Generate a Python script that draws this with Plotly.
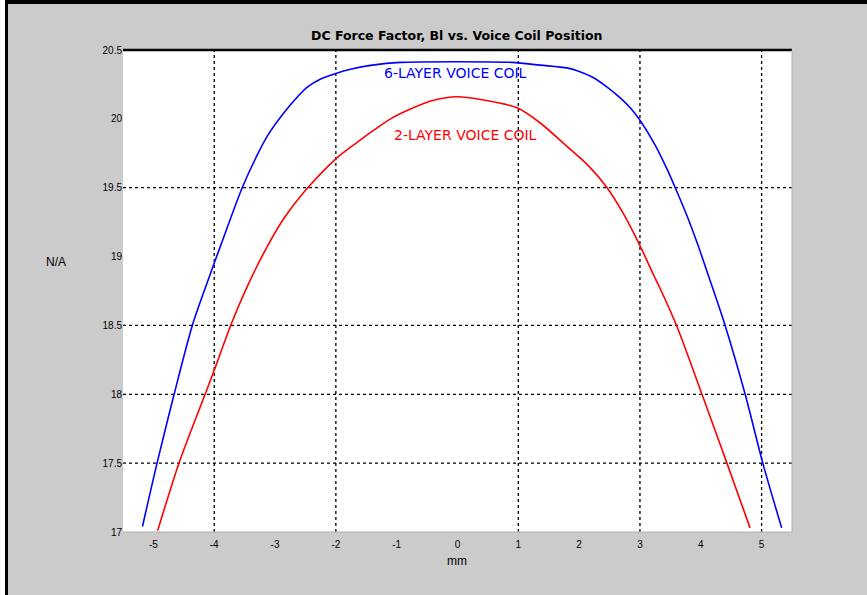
import plotly.graph_objects as go

# ---- data ----
blue_x = [-5.18, -4.94, -4.66, -4.36, -4.10, -3.82, -3.54, -3.29, -3.12, -2.86, -2.63,
          -2.47, -2.25, -2.0, -1.76, -1.4, -0.94, 0.0, 0.9, 1.36, 1.8, 1.97, 2.23, 2.46,
          2.68, 2.84, 3.0, 3.25, 3.44, 3.58, 3.77, 3.94, 4.15, 4.40, 4.73, 5.02, 5.33]
blue_y = [17.04, 17.5, 18.0, 18.5, 18.83, 19.17, 19.5, 19.74, 19.88, 20.04, 20.16,
          20.23, 20.29, 20.33, 20.36, 20.39, 20.41, 20.415, 20.41, 20.39, 20.37, 20.35, 20.30, 20.23,
          20.15, 20.08, 19.99, 19.81, 19.64, 19.5, 19.30, 19.10, 18.83, 18.5, 18.0, 17.5, 17.03]

red_x = [-4.93, -4.58, -4.15, -3.97, -3.73, -3.46, -3.12, -2.85, -2.52, -2.0, -1.65, -1.37,
         -1.10, -0.83, -0.44, 0.0, 0.38, 0.98, 1.36, 1.80, 2.15, 2.46, 2.73, 3.0, 3.22,
         3.33, 3.61, 4.02, 4.43, 4.81]
red_y = [17.01, 17.5, 18.0, 18.21, 18.5, 18.78, 19.08, 19.28, 19.47, 19.71, 19.83, 19.92,
         20.00, 20.06, 20.13, 20.16, 20.14, 20.08, 19.97, 19.80, 19.66, 19.5, 19.31, 19.08, 18.87,
         18.77, 18.49, 18.0, 17.5, 17.03]

x_ticks = [-5, -4, -3, -2, -1, 0, 1, 2, 3, 4, 5]
x_tick_labels = ["-5", "-4", "-3", "-2", "-1", "0", "1", "2", "3", "4", "5"]
y_ticks = [17, 17.5, 18, 18.5, 19, 19.5, 20, 20.5]
y_tick_labels = ["17", "17.5", "18", "18.5", "19", "19.5", "20", "20.5"]

# grid lines visible in the reference
x_grid = [-4, -2, 1, 3, 5]
y_grid = [17.5, 18, 18.5, 19.5]

series_names = ["6-LAYER VOICE COIL", "2-LAYER VOICE COIL"]
title_text = "DC Force Factor, Bl vs. Voice Coil Position"

FONT = "Liberation Sans, Arial, sans-serif"
WIDE = "DejaVu Sans, Verdana, sans-serif"
GRAY = "#cbcbcb"

fig = go.Figure()
fig.add_trace(go.Scatter(x=blue_x, y=blue_y, mode="lines", name=series_names[0],
                         line=dict(color="#0000ff", width=1.6, shape="spline", smoothing=0.8),
                         showlegend=False))
fig.add_trace(go.Scatter(x=red_x, y=red_y, mode="lines", name=series_names[1],
                         line=dict(color="#ff0000", width=1.6, shape="spline", smoothing=0.8),
                         showlegend=False))

shapes = []
for gx in x_grid:
    shapes.append(dict(type="line", xref="x", yref="paper", x0=gx, x1=gx, y0=0, y1=1,
                       line=dict(color="black", width=1.3, dash="dot"), layer="below"))
for gy in y_grid:
    shapes.append(dict(type="line", xref="paper", yref="y", x0=0, x1=1, y0=gy, y1=gy,
                       line=dict(color="black", width=1.3, dash="dot"), layer="below"))

# plot frame: thick top, light bottom/right
shapes.append(dict(type="line", xref="paper", yref="paper", x0=0, x1=1, y0=1, y1=1,
                   line=dict(color="black", width=2.5)))
shapes.append(dict(type="line", xref="paper", yref="paper", x0=0, x1=1, y0=0, y1=0,
                   line=dict(color="#b0b0b0", width=1)))
shapes.append(dict(type="line", xref="paper", yref="paper", x0=1, x1=1, y0=0, y1=1,
                   line=dict(color="#b0b0b0", width=1)))

# window frame (pixel -> paper conversion)
L, R, T, B, W, H = 123, 75, 50, 63, 867, 595
pw, ph = W - L - R, H - T - B
def px(x):
    return (x - L) / pw
def py(y):
    return (H - B - y) / ph
shapes.append(dict(type="rect", xref="paper", yref="paper", x0=px(0), x1=px(5), y0=py(0), y1=py(H),
                   line=dict(width=0), fillcolor="white"))
shapes.append(dict(type="rect", xref="paper", yref="paper", x0=px(5), x1=px(8), y0=py(0), y1=py(H),
                   line=dict(width=0), fillcolor="black"))
shapes.append(dict(type="rect", xref="paper", yref="paper", x0=px(5), x1=px(W), y0=py(0), y1=py(4),
                   line=dict(width=0), fillcolor="black"))

annotations = [
    dict(x=-0.03, y=20.33, xref="x", yref="y", text=series_names[0], showarrow=False,
         xanchor="center", yanchor="middle",
         font=dict(family=WIDE, size=14, color="#0000ff")),
    dict(x=0.13, y=19.88, xref="x", yref="y", text=series_names[1], showarrow=False,
         xanchor="center", yanchor="middle",
         font=dict(family=WIDE, size=14, color="#ff0000")),
    dict(x=px(56), y=py(262), xref="paper", yref="paper", text="N/A", showarrow=False,
         xanchor="center", yanchor="middle",
         font=dict(family=FONT, size=12, color="black")),
    dict(x=px(457), y=py(561), xref="paper", yref="paper", text="mm", showarrow=False,
         xanchor="center", yanchor="middle",
         font=dict(family=FONT, size=12, color="black")),
    dict(x=px(456), y=py(35), xref="paper", yref="paper", text="<b>" + title_text + "</b>",
         showarrow=False, xanchor="center", yanchor="middle",
         font=dict(family=WIDE, size=12.5, color="black")),
]

fig.update_layout(
    width=W, height=H,
    margin=dict(l=L, r=R, t=T, b=B),
    paper_bgcolor=GRAY, plot_bgcolor="white",
    font=dict(family=FONT, size=10, color="black"),
    shapes=shapes, annotations=annotations,
    xaxis=dict(range=[-5.5, 5.5], tickvals=x_ticks, ticktext=x_tick_labels, showgrid=False,
               zeroline=False, showline=False, ticks="outside", ticklen=3, tickcolor=GRAY,
               tickfont=dict(size=10)),
    yaxis=dict(range=[17, 20.5], tickvals=y_ticks, ticktext=y_tick_labels, showgrid=False,
               zeroline=False, showline=False, ticks="", tickfont=dict(size=10)),
)

fig.write_html("out.html")
